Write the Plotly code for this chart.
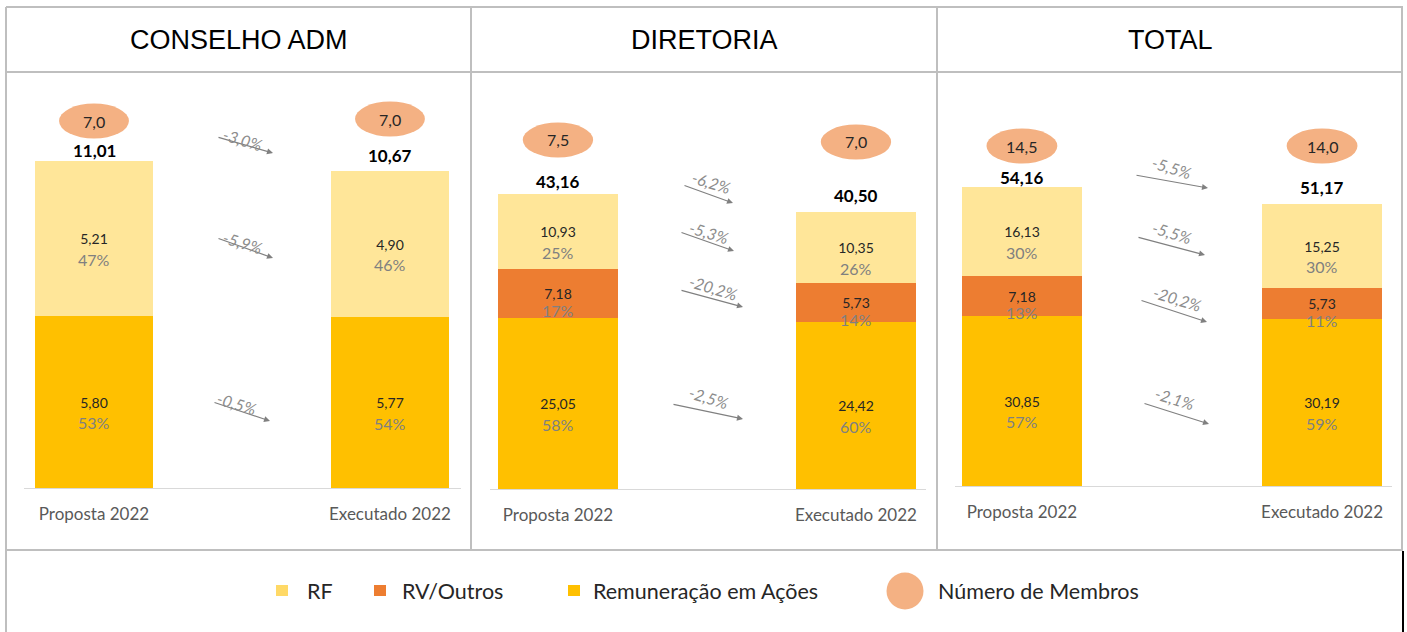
import math
import plotly.graph_objects as go

W, H = 1407, 632

# ---------------- DATA ----------------
categories = ["Proposta 2022", "Executado 2022"]
panel_titles = ["CONSELHO ADM", "DIRETORIA", "TOTAL"]
series_names = ["RF", "RV/Outros", "Remuneração em Ações", "Número de Membros"]

conselho_rf = [5.21, 4.90]
conselho_rv = [0.0, 0.0]
conselho_acoes = [5.80, 5.77]
conselho_membros = [7.0, 7.0]
conselho_var = ["-3,0%", "-5,9%", "-0,5%"]

diretoria_rf = [10.93, 10.35]
diretoria_rv = [7.18, 5.73]
diretoria_acoes = [25.05, 24.42]
diretoria_membros = [7.5, 7.0]
diretoria_var = ["-6,2%", "-5,3%", "-20,2%", "-2,5%"]

total_rf = [16.13, 15.25]
total_rv = [7.18, 5.73]
total_acoes = [30.85, 30.19]
total_membros = [14.5, 14.0]
total_var = ["-5,5%", "-5,5%", "-20,2%", "-2,1%"]

panel_data = [
    (conselho_rf, conselho_rv, conselho_acoes, conselho_membros, conselho_var),
    (diretoria_rf, diretoria_rv, diretoria_acoes, diretoria_membros, diretoria_var),
    (total_rf, total_rv, total_acoes, total_membros, total_var),
]

# ---------------- STYLE / LAYOUT ----------------
C_RF = "#FFE699"
C_RV = "#ED7D31"
C_ACOES = "#FFC000"
C_ELL = "#F4B183"
C_LEG_RF = "#FFD966"
GRID = "#BFBFBF"
FONT = "Lato"

# per-panel pixel layout (x domain, y domain [bottom, top], x range, y max,
# ellipse y centres, total-label offsets, arrows (tail x,y, head x,y, text x,y))
panel_layout = [
    dict(xdom=(24, 461), ydom=(488, 80), xr=(-0.2365, 1.24), ymax=13.74,
         ell_y=(121, 119), tot_shift=(11, 16),
         arrows=[(217, 137, 273, 153, 243, 139),
                 (217, 238, 273, 258, 243, 242),
                 (213, 402, 270, 421, 237, 403)]),
    dict(xdom=(490, 926), ydom=(489, 80), xr=(-0.228, 1.235), ymax=59.84,
         ell_y=(140, 142), tot_shift=(13, 17),
         arrows=[(683, 185, 733, 203, 712, 182),
                 (680, 232, 734, 251, 709, 233),
                 (680, 290, 743, 307, 713, 287),
                 (672, 404, 743, 419, 709, 397)]),
    dict(xdom=(955, 1392), ydom=(486, 80), xr=(-0.223, 1.233), ymax=73.54,
         ell_y=(146, 146), tot_shift=(9, 16),
         arrows=[(1135, 175, 1208, 188, 1172, 167),
                 (1137, 237, 1205, 255, 1172, 233),
                 (1140, 300, 1207, 322, 1177, 298),
                 (1143, 403, 1209, 424, 1175, 398)]),
]


def px(x):
    return x / W


def py(y):
    return 1 - y / H


def fmt2(v):
    return f"{v:.2f}".replace(".", ",")


def fmt1(v):
    return f"{v:.1f}".replace(".", ",")


fig = go.Figure()
annotations = []
shapes = []
layout_axes = {}

for i, (data, cfg) in enumerate(zip(panel_data, panel_layout)):
    rf, rv, ac, mem, var = data
    n = "" if i == 0 else str(i + 1)
    xa, ya = "x" + n, "y" + n
    totals = [a + b + c for a, b, c in zip(rf, rv, ac)]

    for vals, color in [(ac, C_ACOES), (rv, C_RV), (rf, C_RF)]:
        fig.add_trace(go.Bar(
            x=categories, y=vals, xaxis=xa, yaxis=ya, width=0.4,
            marker=dict(color=color, line=dict(width=0)),
            text=[fmt2(v) if v > 0 else "" for v in vals],
            textposition="inside", insidetextanchor="middle", textangle=0,
            constraintext="none",
            insidetextfont=dict(family=FONT, size=14, color="#262626"),
            showlegend=False, hoverinfo="skip",
        ))

    # percent labels
    for j, cat in enumerate(categories):
        base = 0.0
        for vals, shift in [(ac, -21), (rv, -17), (rf, -21)]:
            v = vals[j]
            if v > 0:
                pct = round(100 * v / totals[j])
                annotations.append(dict(
                    x=cat, y=base + v / 2, xref=xa, yref=ya, text=f"{pct}%",
                    showarrow=False, yshift=shift, yanchor="middle",
                    font=dict(family=FONT, size=16, color="#808080")))
            base += v
        # totals
        annotations.append(dict(
            x=cat, y=totals[j], xref=xa, yref=ya, text=f"<b>{fmt2(totals[j])}</b>",
            showarrow=False, yshift=cfg["tot_shift"][j], yanchor="middle",
            font=dict(family=FONT, size=17, color="#000000")))
        # ellipse (membros)
        ey = cfg["ell_y"][j]
        shapes.append(dict(
            type="circle", xref=xa, yref="paper", x0=j - 0.118, x1=j + 0.118,
            y0=py(ey + 17.5), y1=py(ey - 17.5), fillcolor=C_ELL,
            line=dict(width=0), layer="above"))
        annotations.append(dict(
            x=cat, y=py(ey), xref=xa, yref="paper", text=fmt1(mem[j]),
            showarrow=False, yanchor="middle",
            font=dict(family=FONT, size=16, color="#262626")))

    # variation arrows
    for k, (tx, ty, hx, hy, lx, ly) in enumerate(cfg["arrows"]):
        annotations.append(dict(
            x=px(hx), y=py(hy), xref="paper", yref="paper", text="",
            showarrow=True, ax=tx - hx, ay=ty - hy, axref="pixel", ayref="pixel",
            arrowhead=2, arrowsize=1, arrowwidth=1.2, arrowcolor="#808080",
            standoff=0, startstandoff=0))
        annotations.append(dict(
            x=px(lx), y=py(ly), xref="paper", yref="paper", text=f"<i>{var[k]}</i>",
            showarrow=False, textangle=17, xanchor="center", yanchor="middle",
            font=dict(family=FONT, size=16, color="#8C8C8C")))

    key = "" if i == 0 else str(i + 1)
    layout_axes["xaxis" + key] = dict(
        domain=[px(cfg["xdom"][0]), px(cfg["xdom"][1])], anchor=ya,
        range=list(cfg["xr"]), type="category", showgrid=False, zeroline=False,
        showline=True, linecolor="#D9D9D9", linewidth=1, ticks="",
        ticklabelstandoff=11,
        tickfont=dict(family=FONT, size=17, color="#595959"), fixedrange=True)
    layout_axes["yaxis" + key] = dict(
        domain=[py(cfg["ydom"][0]), py(cfg["ydom"][1])], anchor=xa,
        range=[0, cfg["ymax"]], visible=False, fixedrange=True)

    # panel title
    cx = [238.5, 704, 1170][i]
    annotations.append(dict(
        x=px(cx), y=py(40), xref="paper", yref="paper", text=panel_titles[i],
        showarrow=False, xanchor="center", yanchor="middle",
        font=dict(family="Liberation Sans", size=27, color="#000000")))

# table grid lines
def line(x0, y0, x1, y1, color=GRID, width=2):
    shapes.append(dict(type="line", xref="paper", yref="paper",
                       x0=px(x0), y0=py(y0), x1=px(x1), y1=py(y1),
                       line=dict(color=color, width=width), layer="below"))

line(6, 7, 1403, 7)
line(6, 7, 6, 632)
line(1402, 7, 1402, 551)
line(1403, 551, 1403, 632, color="#000000", width=2)
line(6, 72, 1403, 72)
line(471, 7, 471, 550)
line(937, 7, 937, 550)
line(6, 550, 1403, 550)

# legend (manual)
leg_y = 591
leg_items = [
    ("sq", 282, C_LEG_RF, 305, series_names[0]),
    ("sq", 380, C_RV, 400, series_names[1]),
    ("sq", 574, C_ACOES, 591, series_names[2]),
    ("ci", 905, C_ELL, 936, series_names[3]),
]
for kind, mx, col, tx, label in leg_items:
    if kind == "sq":
        shapes.append(dict(type="rect", xref="paper", yref="paper",
                           x0=px(mx - 6), x1=px(mx + 6), y0=py(leg_y + 5), y1=py(leg_y - 6),
                           fillcolor=col, line=dict(width=0)))
    else:
        shapes.append(dict(type="circle", xref="paper", yref="paper",
                           x0=px(mx - 18.5), x1=px(mx + 18.5), y0=py(leg_y + 18.5), y1=py(leg_y - 18.5),
                           fillcolor=col, line=dict(width=0)))
    annotations.append(dict(
        x=px(tx), y=py(leg_y), xref="paper", yref="paper", text=label,
        showarrow=False, xanchor="left", yanchor="middle",
        font=dict(family=FONT, size=21.5, color="#262626")))

fig.update_layout(
    width=W, height=H, margin=dict(l=0, r=0, t=0, b=0, pad=0),
    paper_bgcolor="white", plot_bgcolor="rgba(0,0,0,0)",
    barmode="stack", bargap=0, showlegend=False,
    annotations=annotations, shapes=shapes, **layout_axes,
)

fig.write_html(
    "out.html",
    config={"displayModeBar": False},
    post_script="document.body.style.margin='0';document.body.style.overflow='hidden';",
)
